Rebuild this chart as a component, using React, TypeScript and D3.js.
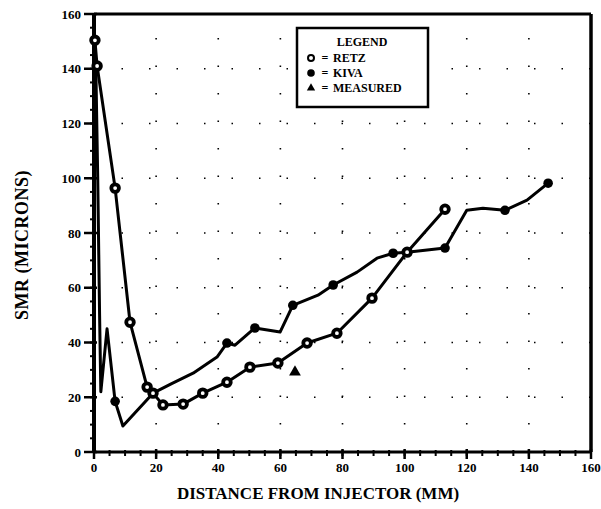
import React from "react";
import * as d3 from "d3";

// RETZ series (line vertices, all with markers)
const retzX = [0.3, 1.0, 6.8, 11.6, 17.1, 19.0, 22.2, 28.7, 35.0, 42.8, 50.2, 59.2, 68.6, 78.2, 89.5, 100.8, 113.0];
const retzY = [150.4, 141.0, 96.4, 47.4, 23.7, 21.5, 17.2, 17.5, 21.5, 25.5, 31.0, 32.5, 39.8, 43.4, 56.2, 73.0, 88.7];

// KIVA series line vertices
const kivaX = [0.3, 0.6, 1.2, 1.8, 2.2, 4.2, 6.8, 9.3, 19.0, 25.0, 31.9, 39.6, 42.8, 45.4, 51.8, 59.9, 64.0, 72.1, 77.0, 84.7, 91.1, 96.3, 100.8, 113.0, 120.0, 125.2, 132.3, 139.4, 146.2];
const kivaY = [150.0, 140.0, 100.0, 50.0, 22.0, 45.0, 18.5, 9.5, 21.5, 25.0, 28.8, 34.7, 39.8, 39.0, 45.3, 43.8, 53.6, 57.3, 61.0, 65.7, 70.8, 72.6, 73.0, 74.5, 88.3, 89.0, 88.3, 92.0, 98.2];
// KIVA marker points
const kivaMarkX = [6.8, 42.8, 51.8, 64.0, 77.0, 96.3, 113.0, 132.3, 146.2];
const kivaMarkY = [18.5, 39.8, 45.3, 53.6, 61.0, 72.6, 74.5, 88.3, 98.2];

// MEASURED
const measX = [64.7];
const measY = [29.2];

const xTicks = [0, 20, 40, 60, 80, 100, 120, 140, 160];
const yTicks = [0, 20, 40, 60, 80, 100, 120, 140, 160];
const legendLabels = ["RETZ", "KIVA", "MEASURED"];

const W = 601;
const H = 509;

export default function App() {
  const x = d3.scaleLinear().domain([0, 160]).range([94, 591]);
  const y = d3.scaleLinear().domain([0, 160]).range([452, 14]);
  const line = d3.line<[number, number]>().x((d) => x(d[0])).y((d) => y(d[1]));
  const retzPts = retzX.map((v, i) => [v, retzY[i]] as [number, number]);
  const kivaPts = kivaX.map((v, i) => [v, kivaY[i]] as [number, number]);
  const minor = d3.range(0, 161, 5);
  const font = "'Liberation Serif', 'DejaVu Serif', serif";
  const tri = d3.symbol().type(d3.symbolTriangle).size(60)();

  return (
    <svg width={W} height={H} style={{ position: "absolute", left: 0, top: 0, background: "#fff" }}>
      {/* dotted grid */}
      <g stroke="#000" strokeWidth={1.6} strokeDasharray="1.5,26">
        {xTicks.slice(1, -1).map((t) => (
          <line key={"gx" + t} x1={x(t)} x2={x(t)} y1={y(0)} y2={y(160)} />
        ))}
        {yTicks.slice(1, -1).map((t) => (
          <line key={"gy" + t} x1={x(0)} x2={x(160)} y1={y(t)} y2={y(t)} />
        ))}
      </g>
      {/* frame */}
      <line x1={x(0)} x2={x(160)} y1={y(160)} y2={y(160)} stroke="#000" strokeWidth={3} />
      <line x1={x(160)} x2={x(160)} y1={y(160)} y2={y(0)} stroke="#000" strokeWidth={3.5} />
      <line x1={x(0) - 1} x2={x(160)} y1={y(0)} y2={y(0)} stroke="#000" strokeWidth={3} />
      <line x1={x(0)} x2={x(0)} y1={y(160)} y2={y(0)} stroke="#000" strokeWidth={4} />
      {/* minor ticks */}
      {minor.map((t) => (
        <g key={"m" + t} stroke="#000" strokeWidth={2}>
          <line x1={x(0) - 4} x2={x(0) + 2} y1={y(t)} y2={y(t)} />
          <line x1={x(t)} x2={x(t)} y1={y(0) - 2} y2={y(0) + 4} />
        </g>
      ))}
      {/* major ticks + labels */}
      {yTicks.map((t) => (
        <g key={"yt" + t}>
          <line x1={x(0) - 10} x2={x(0) + 3} y1={y(t)} y2={y(t)} stroke="#000" strokeWidth={2.5} />
          <text x={81} y={y(t)} dy="0.35em" textAnchor="end" fontFamily={font} fontWeight="bold" fontSize={13}>
            {t}
          </text>
        </g>
      ))}
      {xTicks.map((t) => (
        <g key={"xt" + t}>
          <line x1={x(t)} x2={x(t)} y1={y(0) - 3} y2={y(0) + 7} stroke="#000" strokeWidth={2.5} />
          <text x={x(t)} y={472} textAnchor="middle" fontFamily={font} fontWeight="bold" fontSize={13}>
            {t}
          </text>
        </g>
      ))}
      {/* axis titles */}
      <text x={318} y={499} textAnchor="middle" fontFamily={font} fontWeight="bold" fontSize={17}>
        DISTANCE FROM INJECTOR  (MM)
      </text>
      <text
        transform={`translate(28,245) rotate(-90)`}
        textAnchor="middle"
        fontFamily={font}
        fontWeight="bold"
        fontSize={18}
        letterSpacing={0.5}
      >
        SMR  (MICRONS)
      </text>
      {/* series lines */}
      <path d={line(kivaPts) || ""} fill="none" stroke="#000" strokeWidth={3} strokeLinejoin="round" />
      <path d={line(retzPts) || ""} fill="none" stroke="#000" strokeWidth={3} strokeLinejoin="round" />
      {/* markers */}
      {retzPts.map((p, i) => (
        <circle key={"r" + i} cx={x(p[0])} cy={y(p[1])} r={3.8} fill="#fff" stroke="#000" strokeWidth={3.8} />
      ))}
      {kivaMarkX.map((v, i) => (
        <circle key={"k" + i} cx={x(v)} cy={y(kivaMarkY[i])} r={4.8} fill="#000" />
      ))}
      {measX.map((v, i) => (
        <path key={"ms" + i} d={tri || ""} transform={`translate(${x(v)},${y(measY[i])})`} fill="#000" />
      ))}
      {/* legend */}
      <rect x={297} y={28} width={131} height={79} fill="#fff" stroke="#000" strokeWidth={2.5} />
      <text x={362} y={46} textAnchor="middle" fontFamily={font} fontWeight="bold" fontSize={12}>
        LEGEND
      </text>
      {legendLabels.map((lab, i) => {
        const cy = 58 + i * 15;
        return (
          <g key={lab}>
            {i === 0 && <circle cx={311} cy={cy} r={3} fill="#fff" stroke="#000" strokeWidth={2} />}
            {i === 1 && <circle cx={311} cy={cy} r={3.8} fill="#000" />}
            {i === 2 && (
              <path d={d3.symbol().type(d3.symbolTriangle).size(30)() || ""} transform={`translate(311,${cy})`} fill="#000" />
            )}
            <text x={325} y={cy} dy="0.35em" textAnchor="middle" fontFamily={font} fontWeight="bold" fontSize={12}>
              =
            </text>
            <text x={333} y={cy} dy="0.35em" fontFamily={font} fontWeight="bold" fontSize={12}>
              {lab}
            </text>
          </g>
        );
      })}
    </svg>
  );
}
